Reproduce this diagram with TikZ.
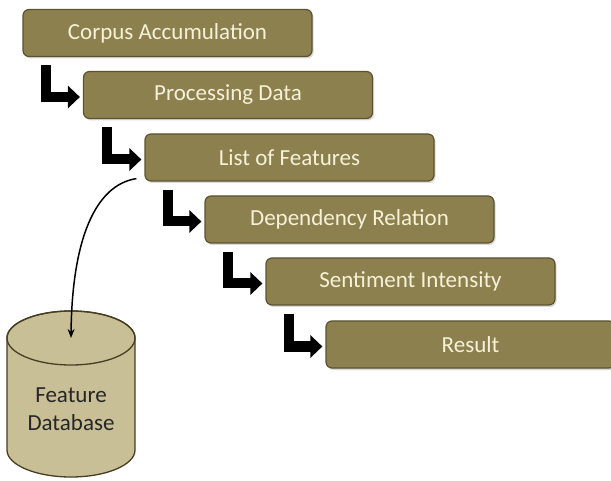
\documentclass[tikz,border=0pt]{standalone}
\usepackage{fontspec}
\setmainfont{Carlito}
\usetikzlibrary{arrows.meta,shadows}
\definecolor{boxfill}{RGB}{140,128,78}
\definecolor{boxline}{RGB}{92,82,48}
\definecolor{boxtext}{RGB}{246,241,216}
\definecolor{dbfill}{RGB}{201,191,150}
\definecolor{dbline}{RGB}{70,62,36}
\tikzset{
  stagebox/.style={draw=boxline, line width=1.2pt, fill=boxfill, rounded corners=6pt,
    minimum width=289pt, minimum height=47pt, inner sep=0pt, text=boxtext,
    font=\fontsize{23}{27}\selectfont,
    drop shadow={shadow xshift=1.5pt, shadow yshift=-2pt, opacity=0.3}},
  stepL/.style={line width=10pt, black, -{Triangle[length=12pt,width=22pt]}},
  feedarrow/.style={line width=1.5pt, black, -{Stealth[length=9pt,width=7pt]}},
  dbtext/.style={text=black!85, font=\fontsize{23}{28}\selectfont, align=center}
}
\begin{document}
\begin{tikzpicture}[x=1pt,y=1pt]
\useasboundingbox (0,0) rectangle (611,480);
\node[stagebox] (b1) at (167.5,447) {Corpus Accumulation};
\node[stagebox] (b2) at (228,385) {Processing Data};
\node[stagebox] (b3) at (289.5,322.5) {List of Features};
\node[stagebox] (b4) at (349.5,260.5) {Dependency Relation};
\node[stagebox] (b5) at (410.5,198.5) {Sentiment Intensity};
\node[stagebox] (b6) at (470.5,135.5) {Result};
\foreach \a/\b in {b1/b2,b2/b3,b3/b4,b4/b5,b5/b6}{
  \draw[stepL] ([xshift=24pt,yshift=-8pt]\a.south west) |- ([xshift=-3pt,yshift=-2pt]\b.west);
}
% cylinder
\path[fill=dbfill, draw=dbline, line width=1.3pt]
  (7,142) -- (7,30) arc[start angle=180,end angle=360,x radius=64,y radius=27]
  -- (135,142) arc[start angle=0,end angle=180,x radius=64,y radius=27] -- cycle;
\draw[dbline, line width=1.3pt] (71,142) ellipse[x radius=64,y radius=27];
\coordinate (dbtop) at (71,142);
\node[dbtext] (db) at (71,71) {Feature\\Database};
\draw[feedarrow] ([xshift=-8pt,yshift=3pt]b3.south west) .. controls (95,295) and (72,240) .. (dbtop);
\end{tikzpicture}
\end{document}
